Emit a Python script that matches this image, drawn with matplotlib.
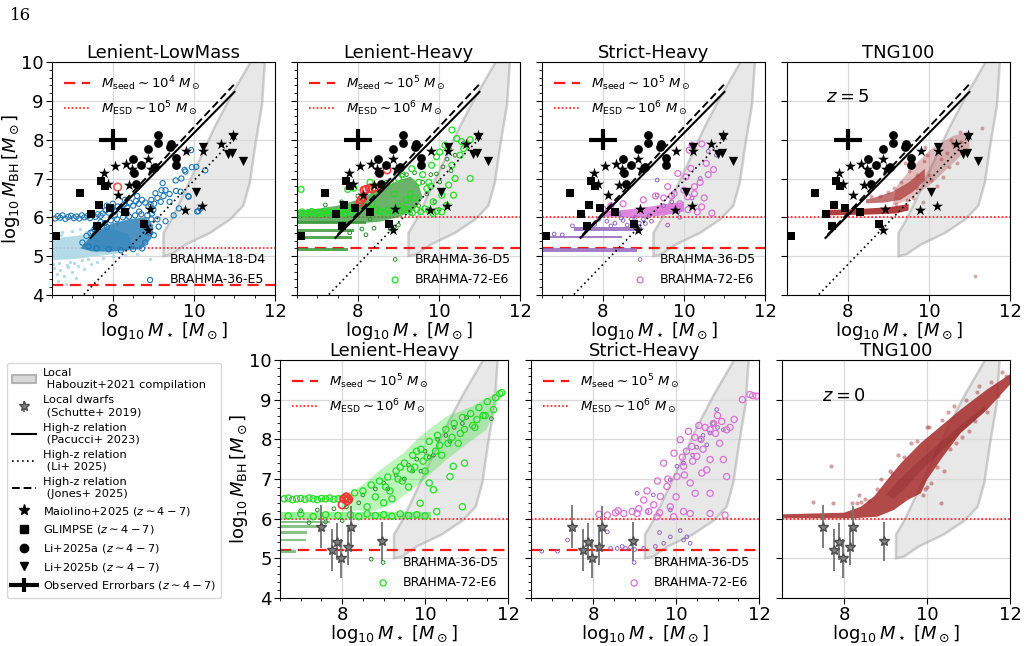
import numpy as np
import matplotlib.pyplot as plt
from matplotlib.patches import Patch
from matplotlib.lines import Line2D
from matplotlib.legend_handler import HandlerErrorbar

plt.rcParams['font.family'] = ['DejaVu Sans']
plt.rcParams['mathtext.fontset'] = 'dejavusans'

# ---------------- observations (same in all z~5 panels) ----------------
mai_x = [7.79, 8.06, 8.32, 8.47, 7.88, 8.14, 8.39, 8.93, 8.88, 9.81, 8.91, 8.88, 9.79, 10.21, 10.66, 10.23, 10.97]
mai_y = [7.14, 7.32, 7.37, 7.24, 6.87, 6.57, 6.82, 7.25, 7.50, 7.70, 6.21, 5.67, 6.18, 6.28, 7.89, 7.70, 8.12]
gl_x = [6.60, 7.19, 7.71, 7.81, 7.67, 7.46, 7.93, 7.61, 8.30, 8.77]
gl_y = [5.53, 6.63, 6.93, 6.80, 6.33, 6.08, 6.25, 5.78, 6.14, 5.84]
lia_x = [9.12, 9.12, 8.86, 9.43, 9.40, 9.55, 9.55, 8.51, 8.70, 9.05, 8.52, 8.58]
lia_y = [8.13, 7.91, 7.77, 7.90, 7.80, 7.54, 7.34, 7.50, 7.36, 7.30, 7.14, 6.85]
lib_x = [10.23, 10.97, 10.85, 10.95, 11.20, 10.04]
lib_y = [7.80, 8.08, 7.62, 7.65, 7.45, 6.65]
err_x, err_y, err_dx, err_dy = 8.0, 8.0, 0.35, 0.27

pac_x, pac_y = [7.45, 11.0], [5.47, 9.23]
jon_x, jon_y = [7.50, 11.0], [5.55, 9.43]
li_x, li_y = [7.20, 11.0], [3.92, 8.03]

hab_x = [9.25, 9.25, 9.45, 9.70, 10.15, 10.50, 10.90, 11.40, 11.75, 11.68, 11.52, 11.38, 11.22, 10.90, 10.40, 9.80, 9.45]
hab_y = [5.00, 5.60, 5.95, 6.50, 7.50, 8.30, 9.10, 10.0, 10.0, 8.90, 7.90, 6.90, 6.30, 5.95, 5.60, 5.30, 5.05]

# local dwarfs (z=0 panels)
dw_x = [7.50, 7.76, 7.88, 7.98, 8.14, 8.22, 8.96]
dw_y = [5.80, 5.21, 5.42, 5.00, 5.29, 5.80, 5.43]
dw_e = [0.55, 0.54, 0.47, 0.49, 0.47, 0.51, 0.49]

# ---------------- Lenient-LowMass z=5 ----------------
d4_poly_x = [6.5, 6.5, 6.9, 7.3, 7.7, 8.0, 8.4, 8.5, 8.2, 7.6, 7.0]
d4_poly_y = [4.90, 5.45, 5.50, 5.55, 5.65, 5.70, 5.55, 5.20, 5.08, 5.00, 4.92]
d4_x = [6.55, 6.62, 6.70, 6.80, 6.90, 7.00, 7.15, 7.30, 7.45, 7.60, 6.65, 7.10, 6.60, 6.75, 7.00, 7.20, 7.50, 7.80,
        8.10, 8.60, 6.85, 7.25, 6.52, 6.58, 6.68, 6.95, 7.40, 7.75, 8.00, 8.30, 6.72, 6.88, 7.05, 7.35, 7.65]
d4_y = [4.70, 4.55, 4.65, 4.50, 4.72, 4.60, 4.75, 4.68, 4.80, 4.85, 4.35, 4.45, 5.60, 5.62, 5.65, 5.70, 5.78, 5.80,
        5.82, 5.05, 4.28, 4.90, 4.80, 5.52, 4.82, 4.85, 4.92, 4.95, 5.00, 5.02, 5.55, 4.78, 4.83, 5.62, 5.70]
e5_poly_x = [7.2, 7.4, 7.7, 8.0, 8.4, 8.8, 9.0, 8.95, 8.7, 8.0, 7.5]
e5_poly_y = [5.20, 5.45, 5.70, 5.85, 5.95, 6.00, 5.80, 5.45, 5.18, 5.12, 5.12]
e5_x = [6.58, 6.64, 6.70, 6.76, 6.83, 6.90, 6.97, 7.04, 7.10, 7.17, 7.24, 7.30, 7.37, 7.44, 7.50, 7.57, 7.63, 7.70,
        7.75, 7.82, 7.90, 7.98, 8.05, 8.12, 8.20, 8.28, 8.35, 8.42, 8.50, 8.57, 8.64, 8.72, 8.80, 8.88, 8.95, 9.02,
        9.10, 9.18, 9.25, 9.05, 9.20, 8.60, 8.30, 8.00, 7.85, 9.23, 9.30, 9.67, 9.79, 9.95, 9.87, 9.63, 10.08, 10.16,
        9.93, 9.77, 9.69, 9.56, 10.06, 10.28, 9.86, 8.93, 10.11, 9.13, 9.01, 8.97, 9.40, 9.50, 9.30, 9.10, 9.40, 9.55,
        7.25, 7.35, 7.45, 7.55, 7.65, 7.80, 7.95, 8.10, 8.25, 8.40, 8.55, 8.70, 8.85, 8.95, 8.92, 8.80, 8.72, 8.50,
        8.20, 7.90, 7.60, 7.40, 7.70, 8.05, 8.35, 8.65, 9.00, 7.50, 7.85]
e5_y = [5.97, 6.03, 5.99, 6.05, 5.96, 6.01, 6.04, 5.98, 6.02, 5.97, 6.05, 6.00, 6.03, 5.98, 6.06, 6.01, 6.08, 6.04,
        6.10, 6.18, 6.12, 6.22, 6.15, 6.28, 6.20, 6.33, 6.25, 6.38, 6.30, 6.42, 6.35, 6.45, 6.38, 6.28, 6.45, 6.35,
        6.50, 6.40, 6.55, 6.62, 6.70, 6.55, 6.45, 6.35, 6.30, 6.88, 6.70, 6.66, 7.18, 7.29, 6.53, 6.23, 6.15, 6.23,
        7.73, 7.22, 7.00, 6.68, 7.30, 7.21, 6.55, 6.34, 6.16, 5.76, 5.54, 6.10, 6.40, 6.05, 5.90, 5.95, 6.60, 6.95,
        5.35, 5.52, 5.60, 5.70, 5.80, 5.85, 5.92, 5.95, 6.00, 6.02, 6.05, 6.08, 6.05, 5.95, 5.60, 5.35, 5.20, 5.18,
        5.15, 5.18, 5.20, 5.25, 5.88, 6.05, 6.10, 6.15, 6.20, 5.62, 5.75]
lm_red_x, lm_red_y = [8.12], [6.78]

# ---------------- Lenient-Heavy z=5 ----------------
lh5_band_lo = [5.14, 5.44, 5.63, 5.82]
lh5_band_hi = [5.22, 5.52, 5.70, 5.90]
lh5_band_x1 = [7.75, 7.85, 7.90, 8.20]
lh5_poly_x = [6.5, 6.5, 7.0, 7.5, 8.0, 8.5, 9.0, 9.3, 9.5, 9.6, 9.4, 9.0, 8.5, 8.0, 7.5, 7.0]
lh5_poly_y = [5.85, 6.18, 6.22, 6.30, 6.45, 6.70, 6.95, 7.05, 6.85, 6.50, 6.20, 6.00, 5.88, 5.85, 5.85, 5.85]
lh5_d5_x = [9.60, 9.80, 9.94, 10.02, 10.10, 9.70, 9.90, 10.20, 10.40, 10.60, 9.50, 8.80, 9.00, 8.30, 8.50, 8.70, 9.20,
            7.80, 8.10, 8.40, 8.90, 9.30, 10.30, 10.00, 7.20, 7.60, 8.00, 8.60, 9.10, 9.40, 8.20, 8.80]
lh5_d5_y = [6.90, 7.10, 7.12, 6.91, 7.30, 6.60, 6.40, 7.50, 7.60, 7.90, 6.30, 5.70, 5.80, 5.95, 6.80, 6.90, 7.10,
            5.60, 5.70, 5.72, 5.75, 6.10, 7.20, 6.20, 6.32, 6.40, 6.55, 6.85, 7.08, 7.15, 5.55, 5.78]
lh5_e6_x = [6.60, 6.55, 6.62, 6.70, 6.78, 6.86, 6.94, 7.02, 7.10, 7.18, 7.26, 7.34, 7.42, 7.50, 7.58, 7.66, 7.74, 7.82,
            7.90, 7.98, 8.05, 8.15, 8.25, 8.35, 8.45, 8.55, 8.65, 8.75, 8.85, 8.95, 9.05, 9.15, 9.25, 9.35, 9.45, 9.55,
            9.65, 9.75, 9.85, 9.95, 8.40, 8.60, 8.80, 9.00, 9.10, 9.33, 9.57, 9.82, 9.94, 10.02, 10.15, 10.23, 10.32,
            10.44, 10.56, 10.77, 10.32, 10.40, 10.24, 10.07, 10.36, 10.19, 10.07, 10.77, 9.86, 9.70, 10.52, 10.61,
            9.50, 9.30, 9.20, 9.60, 9.75, 8.30, 7.90, 7.75, 8.90, 9.00, 9.40, 9.80]
lh5_e6_y = [6.72, 6.10, 6.14, 6.08, 6.12, 6.15, 6.09, 6.13, 6.10, 6.16, 6.11, 6.14, 6.08, 6.12, 6.15, 6.10, 6.18, 6.13,
            6.20, 6.25, 6.22, 6.30, 6.28, 6.35, 6.20, 6.15, 6.12, 6.18, 6.14, 6.20, 6.16, 6.22, 6.18, 6.12, 6.20, 6.15,
            6.22, 6.18, 6.10, 6.16, 6.60, 6.85, 6.90, 7.00, 7.10, 7.25, 7.34, 7.34, 7.56, 7.68, 7.86, 7.77, 8.25,
            8.03, 7.95, 8.00, 7.34, 7.00, 6.83, 6.57, 6.57, 6.31, 6.14, 7.00, 6.40, 6.74, 7.60, 7.77,
            6.90, 6.60, 6.45, 7.10, 6.90, 6.90, 6.75, 6.72, 6.60, 6.30, 6.50, 6.80]
lh5_red_x = [8.08, 8.12, 8.05, 8.20, 8.28, 8.35, 8.42, 8.15, 8.72]
lh5_red_y = [6.45, 6.50, 6.38, 6.72, 6.75, 6.73, 6.77, 6.70, 7.22]

# ---------------- Strict-Heavy z=5 ----------------
sh5_band_lo = [5.12, 5.46, 5.66]
sh5_band_hi = [5.22, 5.53, 5.74]
sh5_band_x0 = [6.5, 6.5, 7.3]
sh5_band_x1 = [8.85, 8.47, 8.97]
sh5_d5_x = [7.25, 7.60, 7.90, 8.10, 8.30, 8.50, 8.70, 8.90, 9.05, 9.20, 9.34, 9.34, 9.85, 9.50, 9.70, 9.60, 9.90,
            10.20, 10.40, 10.60, 10.80, 6.60, 6.80, 7.00, 8.00, 8.40, 8.80, 7.80, 8.20, 8.60, 9.00, 9.15, 8.45]
sh5_d5_y = [5.78, 5.80, 5.95, 5.90, 5.85, 5.92, 5.95, 5.85, 5.84, 5.90, 6.57, 6.96, 6.14, 6.30, 6.40, 5.80, 6.00,
            6.50, 7.00, 7.70, 7.60, 5.55, 5.57, 5.55, 6.05, 6.08, 6.00, 5.82, 5.78, 5.80, 5.95, 6.05, 5.98]
sh5_poly_x = [8.0, 8.0, 8.6, 9.2, 9.6, 10.0, 10.0, 9.5, 9.0]
sh5_poly_y = [6.02, 6.15, 6.20, 6.28, 6.35, 6.40, 6.15, 6.05, 6.00]
sh5_e6_x = [10.20, 10.44, 10.13, 10.17, 9.85, 10.05, 10.26, 10.55, 10.73, 9.76, 10.09, 10.26, 10.44, 10.69, 10.33,
            9.60, 9.50, 9.90, 10.10, 8.20, 8.00, 8.50, 9.00, 9.30, 9.70, 10.00, 10.40, 10.60, 9.40, 10.50]
sh5_e6_y = [7.86, 7.89, 7.73, 7.26, 7.13, 7.04, 6.79, 7.39, 7.23, 6.61, 6.53, 6.61, 6.27, 6.11, 6.14,
            6.79, 6.50, 6.35, 6.20, 6.30, 6.22, 6.35, 6.45, 6.55, 6.55, 6.70, 6.90, 7.10, 6.20, 6.50]

# ---------------- TNG100 z=5 ----------------
t5_strip1_x = [7.5, 8.5, 9.2, 9.5, 9.5, 9.0, 8.2, 7.5]
t5_strip1_y = [6.05, 6.07, 6.10, 6.18, 6.34, 6.26, 6.21, 6.19]
t5_strip2_x = [8.45, 8.9, 9.3, 9.6, 9.9, 9.9, 9.5, 9.1, 8.7, 8.45]
t5_strip2_y = [6.36, 6.38, 6.45, 6.65, 6.95, 7.25, 6.90, 6.66, 6.52, 6.46]
t5_cloud_x = [9.1, 9.6, 10.1, 10.6, 11.0, 11.0, 10.6, 10.1, 9.6, 9.2]
t5_cloud_y = [6.30, 6.50, 6.90, 7.40, 7.80, 8.20, 8.10, 7.80, 7.30, 6.80]
t5_x = [10.77, 11.30, 11.14, 10.21, 10.54, 9.88, 9.71, 9.14, 8.57, 9.50, 9.90, 10.30, 10.60, 9.30, 9.60, 9.85,
        10.20, 10.50, 10.90, 9.40, 8.80, 9.00, 10.70, 10.00, 9.20, 9.45, 9.70, 10.05, 10.35, 10.80, 9.95, 10.45]
t5_y = [8.21, 8.29, 4.49, 7.87, 8.00, 7.44, 7.10, 6.76, 6.54, 7.20, 7.80, 7.50, 7.90, 6.90, 6.50, 6.40,
        6.80, 7.30, 7.70, 7.40, 6.55, 6.65, 7.40, 7.10, 6.35, 6.45, 6.75, 6.95, 7.05, 7.95, 7.60, 7.65]

# ---------------- Lenient-Heavy z=0 ----------------
lh0_band_lo = [5.13, 5.43, 5.62, 5.76, 5.88]
lh0_band_hi = [5.20, 5.50, 5.70, 5.84, 5.95]
lh0_band_x1 = [6.88, 7.12, 7.16, 7.50, 7.70]
lh0_e6_band = [5.98, 6.16, 6.5, 10.15]
lh0_poly_x = [8.0, 8.5, 8.92, 9.48, 9.88, 10.52, 11.16, 11.64, 11.85, 11.48, 11.16, 10.52, 9.88, 9.24, 8.8, 8.0]
lh0_poly_y = [6.55, 6.85, 7.23, 7.65, 8.08, 8.58, 8.84, 9.13, 9.20, 8.24, 8.00, 7.49, 6.89, 6.39, 6.20, 6.20]
lh0_d5_x = [8.50, 8.80, 9.00, 9.30, 9.60, 9.80, 10.00, 10.30, 10.50, 10.70, 10.90, 11.00, 9.50, 9.90, 10.20, 11.60,
            8.20, 8.70, 7.00, 7.40, 7.80, 8.10, 8.40, 9.10, 9.70, 10.10, 10.60, 7.20, 7.60, 8.00]
lh0_d5_y = [6.60, 6.75, 6.90, 7.10, 7.35, 7.50, 7.70, 8.00, 8.10, 8.30, 8.40, 8.55, 7.00, 7.20, 7.60, 8.52,
            6.45, 4.98, 6.20, 6.22, 6.25, 6.30, 6.40, 6.75, 7.20, 7.55, 7.95, 5.90, 5.92, 5.95]
lh0_e6_x = [6.60, 6.70, 6.80, 6.90, 7.00, 7.10, 7.20, 7.30, 7.40, 7.50, 7.60, 7.70, 7.80, 7.90, 8.00,
            8.10, 8.30, 8.50, 8.70, 8.90, 9.10, 9.30, 9.50, 9.70, 9.90, 10.10, 10.30, 10.50, 10.70, 10.90, 11.10,
            11.30, 11.50, 11.70, 11.80, 11.85, 9.88, 10.20, 10.60, 10.68, 10.28, 10.90, 9.60, 9.20, 10.00, 10.40,
            10.80, 11.20, 9.40, 9.80, 10.95, 11.40, 10.10, 9.00, 8.60,
            8.20, 8.40, 8.60, 8.80, 9.00, 9.20, 9.40, 9.60, 9.80, 10.00, 6.70, 7.00, 7.30, 7.60, 7.90,
            8.80, 9.05, 9.35, 9.65, 9.95, 10.25, 10.55, 10.85, 11.15, 11.45, 11.65, 9.15, 9.45, 9.75,
            10.05, 10.35, 10.65, 10.95, 11.25]
lh0_e6_y = [6.50, 6.52, 6.48, 6.50, 6.51, 6.49, 6.52, 6.50, 6.48, 6.51, 6.50, 6.52, 6.49, 6.50, 6.51,
            6.55, 6.65, 6.70, 6.85, 6.95, 7.05, 7.20, 7.40, 7.60, 7.75, 7.95, 8.10, 8.25, 8.40, 8.55, 8.65,
            8.80, 8.95, 9.05, 9.15, 9.18, 6.39, 6.73, 7.06, 7.32, 6.18, 6.30, 6.80, 6.50, 7.20, 7.60,
            7.90, 8.30, 7.30, 7.70, 7.40, 8.60, 6.90, 6.40, 6.30,
            6.10, 6.05, 6.12, 6.08, 6.10, 6.06, 6.12, 6.08, 6.10, 6.07, 6.07, 6.12, 6.05, 6.10, 6.08,
            6.55, 6.80, 7.00, 7.25, 7.45, 7.70, 7.90, 8.15, 8.35, 8.60, 8.75, 6.70, 6.95, 7.30,
            7.55, 7.85, 8.05, 8.25, 8.50]
lh0_red_x = [8.05, 8.10, 8.15, 8.12, 8.00]
lh0_red_y = [6.50, 6.55, 6.50, 6.45, 6.35]

# ---------------- Strict-Heavy z=0 ----------------
sh0_e6_x = [10.10, 10.82, 11.22, 11.78, 11.94, 10.38, 10.50, 10.82, 11.14, 10.74, 10.62, 11.22, 10.18, 10.02, 9.78,
            9.62, 9.22, 9.46, 9.86, 10.18, 10.34, 10.82, 11.18, 10.82, 10.46, 10.34, 8.14, 8.34, 8.54, 8.74, 8.94,
            9.06, 9.34, 9.54, 9.94, 10.60, 10.90, 11.00, 11.40, 9.70, 10.25, 10.55, 11.60, 11.85,
            10.30, 10.45, 10.70, 10.95, 11.05, 10.40, 10.15, 9.95, 9.55, 9.30, 10.65, 11.10, 11.30, 10.00,
            9.80, 10.20, 8.60, 9.10, 9.60]
sh0_e6_y = [7.99, 8.24, 8.24, 9.13, 9.09, 7.82, 7.57, 7.49, 7.49, 7.23, 7.15, 7.06, 7.32, 7.06, 6.81,
            6.56, 6.47, 6.35, 6.30, 6.18, 6.13, 6.13, 6.09, 6.64, 6.64, 6.90, 6.11, 6.09, 6.15, 6.13, 6.18,
            6.13, 6.18, 6.05, 6.05, 8.00, 8.40, 8.60, 8.50, 7.40, 7.70, 8.35, 9.00, 9.10,
            8.20, 8.05, 8.30, 8.15, 7.90, 7.45, 7.55, 7.65, 6.95, 6.70, 7.75, 8.45, 8.30, 6.55,
            7.00, 7.10, 6.20, 6.25, 6.15]
sh0_d5_x = [8.34, 8.42, 8.58, 8.78, 9.22, 9.70, 9.86, 10.18, 10.26, 10.34, 7.38, 6.76, 7.14, 10.18, 10.98, 10.82,
            10.58, 10.74, 11.14, 9.86, 10.02, 9.06, 9.86, 9.30, 10.40, 10.90, 8.90, 9.50, 10.10, 10.50, 10.65,
            11.00, 9.45, 9.60, 9.00, 8.70]
sh0_d5_y = [5.67, 5.25, 5.25, 5.25, 5.25, 5.38, 5.54, 5.46, 5.54, 5.38, 5.46, 5.18, 5.18, 7.40, 8.75, 8.16,
            7.99, 7.86, 8.24, 6.98, 7.32, 6.64, 6.22, 6.18, 7.60, 8.40, 5.28, 5.30, 5.70, 7.80, 8.10,
            8.30, 6.60, 5.65, 5.22, 5.30]

# ---------------- TNG100 z=0 ----------------
t0_poly_x = [6.5, 8.0, 8.4, 8.72, 9.04, 9.37, 9.85, 10.33, 10.81, 11.45, 12.0,
             12.0, 11.45, 10.81, 10.33, 10.0, 9.85, 9.53, 9.2, 8.8, 8.24, 6.5]
t0_poly_y = [6.11, 6.15, 6.30, 6.56, 6.98, 7.40, 7.91, 8.33, 8.75, 9.26, 9.64,
             9.38, 8.75, 8.16, 7.49, 6.98, 6.64, 6.47, 6.22, 6.05, 6.01, 6.01]
t0_core_x = [9.0, 9.3, 9.8, 10.3, 10.8, 11.4, 11.4, 10.8, 10.3, 9.8, 9.5, 9.2]
t0_core_y = [6.60, 6.95, 7.45, 7.90, 8.35, 8.85, 8.70, 8.15, 7.65, 7.15, 6.80, 6.50]
t0_x = [7.68, 7.24, 7.72, 8.35, 8.32, 10.00, 10.33, 8.20, 8.40, 8.60, 9.90, 10.10, 10.40, 9.30, 9.60, 10.00,
        10.50, 11.20, 11.80, 11.90, 11.70, 10.70, 11.00, 9.10, 8.90, 8.50, 8.80, 9.15, 9.45, 9.75, 10.05, 10.35,
        10.65, 10.95, 11.25, 11.55, 9.95, 10.25, 10.55, 10.85, 11.15, 11.45]
t0_y = [7.34, 6.41, 6.39, 6.60, 6.39, 6.81, 6.39, 6.40, 6.42, 6.45, 6.60, 6.90, 7.20, 7.60, 7.90, 8.30,
        8.70, 9.20, 9.70, 9.60, 9.10, 7.90, 8.20, 7.20, 7.00, 6.50, 6.75, 7.15, 7.55, 7.95, 8.30, 8.50,
        8.85, 9.00, 9.35, 9.45, 6.75, 7.30, 7.75, 8.05, 8.45, 8.70]

# ---------------- figure ----------------
fig = plt.figure(figsize=(10.25, 6.46), dpi=100)
W, H = 1025.0, 646.0


def add_ax(l, t, w, h):
    return fig.add_axes([l / W, 1 - (t + h) / H, w / W, h / H])


top = [add_ax(l, 62, 223, 233) for l in (52, 297, 542, 787)]
bot = [add_ax(l, 360, 228, 238) for l in (280, 531, 782)]

fig.text(10 / W, 1 - 15 / H, '16', family='DejaVu Serif', fontsize=12, va='center', ha='left')

RED = '#ff1a1a'
BROWN = '#a52a2a'


def setup(ax, title, minor=True, ylab=False, xt=None):
    ax.set_xlim(6.5, 12)
    ax.set_ylim(4, 10)
    if xt is not None:
        ax.set_xticks(xt)
    ax.set_yticks(range(4, 11))
    if minor:
        ax.minorticks_on()
    ax.grid(True, which='major', color='0.85', lw=0.9)
    ax.set_axisbelow(True)
    ax.tick_params(labelsize=13, length=4, pad=2)
    ax.tick_params(which='minor', length=2)
    ax.set_title(title, fontsize=13, pad=2)
    ax.set_xlabel(r'$\log_{10}M_\star\ [M_\odot]$', fontsize=13, labelpad=-1)
    if ylab:
        ax.set_ylabel(r'$\log_{10}M_{\rm BH}\,[M_\odot]$', fontsize=13, labelpad=-1)
    else:
        ax.tick_params(labelleft=False)
    ax.fill(hab_x, hab_y, facecolor='0.55', alpha=0.2, zorder=0.5)
    ax.fill(hab_x, hab_y, facecolor='none', edgecolor='0.6', alpha=0.45, lw=1.8, zorder=0.6)


def seeds(ax, seed, esd, seed_lab=None, esd_lab=None):
    hs = []
    if seed is not None:
        hs.append(ax.axhline(seed, color=RED, ls=(0, (5, 3)), lw=1.6, zorder=1, label=seed_lab))
    hs.append(ax.axhline(esd, color=RED, ls=(0, (1, 1.3)), lw=1.2, zorder=1, label=esd_lab))
    if seed_lab:
        lg = ax.legend(handles=hs, loc='upper left', frameon=False, fontsize=9.5,
                       handlelength=2.0, borderaxespad=0.5, labelspacing=0.5)
        ax.add_artist(lg)


def bands(ax, lo, hi, x0, x1, color, alpha=0.85):
    for a, b, s, e in zip(lo, hi, x0, x1):
        ax.fill_between([s, e], [a, a], [b, b], color=color, alpha=alpha, lw=0, zorder=2)


def observations(ax):
    ax.plot(li_x, li_y, color='k', ls=(0, (1, 2)), lw=1.2, zorder=3)
    ax.plot(jon_x, jon_y, color='k', ls=(0, (4, 2)), lw=1.4, zorder=3)
    ax.plot(pac_x, pac_y, color='k', ls='-', lw=1.5, zorder=3)
    eb = ax.errorbar([err_x], [err_y], xerr=[err_dx], yerr=[err_dy], fmt='none', ecolor='k', elinewidth=3,
                     capsize=0, zorder=4)
    ax.scatter(mai_x, mai_y, marker='*', s=70, c='k', lw=0, zorder=4)
    ax.scatter(gl_x, gl_y, marker='s', s=40, c='k', lw=0, zorder=4)
    ax.scatter(lia_x, lia_y, marker='o', s=40, c='k', lw=0, zorder=4)
    ax.scatter(lib_x, lib_y, marker='v', s=45, c='k', lw=0, zorder=4)
    return eb


def dwarfs(ax):
    return ax.errorbar(dw_x, dw_y, yerr=dw_e, fmt='*', color='0.45', mfc='0.5', mec='0.3', ms=7,
                       elinewidth=1.3, capsize=0, zorder=5)


def sim_legend(ax, handles):
    ax.legend(handles=handles, loc='lower right', frameon=False, fontsize=9,
              handletextpad=0.6, borderaxespad=0.3, labelspacing=0.6)


# ---- panel 1: Lenient-LowMass z=5
ax = top[0]
setup(ax, 'Lenient-LowMass', ylab=True)
seeds(ax, 4.27, 5.2, r'$M_{\rm seed}\sim10^4\ M_\odot$', r'$M_{\rm ESD}\sim10^5\ M_\odot$')
ax.fill(d4_poly_x, d4_poly_y, color='lightblue', alpha=0.9, lw=0, zorder=2)
h1 = ax.scatter(d4_x, d4_y, s=6, c='lightblue', alpha=0.9, lw=0, zorder=2, label='BRAHMA-18-D4')
ax.fill(e5_poly_x, e5_poly_y, color='#1f77b4', alpha=0.8, lw=0, zorder=2.1)
h2 = ax.scatter(e5_x, e5_y, s=14, facecolors='none', edgecolors='#1f77b4', lw=0.8, zorder=2.2, label='BRAHMA-36-E5')
ax.scatter(lm_red_x, lm_red_y, s=30, facecolors='none', edgecolors='#ff5555', lw=1.2, zorder=2.3)
obs_eb = observations(ax)
sim_legend(ax, [h1, h2])

# ---- panel 2: Lenient-Heavy z=5
ax = top[1]
setup(ax, 'Lenient-Heavy')
seeds(ax, 5.2, 6.0, r'$M_{\rm seed}\sim10^5\ M_\odot$', r'$M_{\rm ESD}\sim10^6\ M_\odot$')
bands(ax, lh5_band_lo, lh5_band_hi, [6.5] * 4, lh5_band_x1, '#3a9a3a')
ax.fill(lh5_poly_x, lh5_poly_y, color='#3a9a3a', alpha=0.75, lw=0, zorder=2)
h1 = ax.scatter(lh5_d5_x, lh5_d5_y, s=7, facecolors='none', edgecolors='#2e8b2e', lw=0.7, zorder=2.1, label='BRAHMA-36-D5')
h2 = ax.scatter(lh5_e6_x, lh5_e6_y, s=18, facecolors='none', edgecolors='#22dd22', lw=0.9, zorder=2.2, label='BRAHMA-72-E6')
ax.scatter(lh5_red_x, lh5_red_y, s=28, facecolors='none', edgecolors='#ff3333', lw=1.1, zorder=2.3)
observations(ax)
sim_legend(ax, [h1, h2])

# ---- panel 3: Strict-Heavy z=5
ax = top[2]
setup(ax, 'Strict-Heavy')
seeds(ax, 5.2, 6.0, r'$M_{\rm seed}\sim10^5\ M_\odot$', r'$M_{\rm ESD}\sim10^6\ M_\odot$')
bands(ax, sh5_band_lo, sh5_band_hi, sh5_band_x0, sh5_band_x1, '#9467bd')
ax.fill(sh5_poly_x, sh5_poly_y, color='#da70d6', alpha=0.85, lw=0, zorder=2)
h1 = ax.scatter(sh5_d5_x, sh5_d5_y, s=7, facecolors='none', edgecolors='#9467bd', lw=0.7, zorder=2.1, label='BRAHMA-36-D5')
h2 = ax.scatter(sh5_e6_x, sh5_e6_y, s=18, facecolors='none', edgecolors='#da70d6', lw=0.9, zorder=2.2, label='BRAHMA-72-E6')
observations(ax)
sim_legend(ax, [h1, h2])

# ---- panel 4: TNG100 z=5
ax = top[3]
setup(ax, 'TNG100', minor=False)
seeds(ax, None, 6.0)
ax.fill(t5_cloud_x, t5_cloud_y, color=BROWN, alpha=0.3, lw=0, zorder=2)
ax.fill(t5_strip1_x, t5_strip1_y, color=BROWN, alpha=0.9, lw=0, zorder=2)
ax.fill(t5_strip2_x, t5_strip2_y, color=BROWN, alpha=0.65, lw=0, zorder=2)
ax.scatter(t5_x, t5_y, s=8, c=BROWN, alpha=0.4, lw=0, zorder=2.1)
ax.text(8.0, 9.1, '$z=5$', fontsize=13, ha='center', va='center')
observations(ax)

# ---- panel 5: Lenient-Heavy z=0
ax = bot[0]
setup(ax, 'Lenient-Heavy', ylab=True, xt=[8, 10, 12])
seeds(ax, 5.2, 6.0, r'$M_{\rm seed}\sim10^5\ M_\odot$', r'$M_{\rm ESD}\sim10^6\ M_\odot$')
bands(ax, lh0_band_lo, lh0_band_hi, [6.5] * 5, lh0_band_x1, '#3a9a3a', alpha=0.6)
bands(ax, [lh0_e6_band[0]], [lh0_e6_band[1]], [lh0_e6_band[2]], [lh0_e6_band[3]], '#22dd22', alpha=0.45)
ax.fill(lh0_poly_x, lh0_poly_y, color='#22dd22', alpha=0.3, lw=0, zorder=2)
h1 = ax.scatter(lh0_d5_x, lh0_d5_y, s=7, facecolors='none', edgecolors='#2e8b2e', lw=0.7, zorder=2.1, label='BRAHMA-36-D5')
h2 = ax.scatter(lh0_e6_x, lh0_e6_y, s=20, facecolors='none', edgecolors='#22dd22', lw=0.9, zorder=2.2, label='BRAHMA-72-E6')
ax.scatter(lh0_red_x, lh0_red_y, s=30, facecolors='none', edgecolors='#ff3333', lw=1.2, zorder=2.3)
dw = dwarfs(ax)
sim_legend(ax, [h1, h2])

# ---- panel 6: Strict-Heavy z=0
ax = bot[1]
setup(ax, 'Strict-Heavy', xt=[8, 10, 12])
seeds(ax, 5.2, 6.0, r'$M_{\rm seed}\sim10^5\ M_\odot$', r'$M_{\rm ESD}\sim10^6\ M_\odot$')
h1 = ax.scatter(sh0_d5_x, sh0_d5_y, s=7, facecolors='none', edgecolors='#9467bd', lw=0.7, zorder=2.1, label='BRAHMA-36-D5')
h2 = ax.scatter(sh0_e6_x, sh0_e6_y, s=20, facecolors='none', edgecolors='#da70d6', lw=0.9, zorder=2.2, label='BRAHMA-72-E6')
dwarfs(ax)
sim_legend(ax, [h1, h2])

# ---- panel 7: TNG100 z=0
ax = bot[2]
setup(ax, 'TNG100', minor=False, xt=[8, 10, 12])
seeds(ax, None, 6.0)
ax.fill(t0_poly_x, t0_poly_y, color=BROWN, alpha=0.85, lw=0, zorder=2)
ax.fill(t0_core_x, t0_core_y, color='#7a1c1c', alpha=0.25, lw=0, zorder=2.1)
ax.scatter(t0_x, t0_y, s=9, c=BROWN, alpha=0.45, lw=0, zorder=2.2)
ax.text(8.0, 9.1, '$z=0$', fontsize=13, ha='center', va='center')
dwarfs(ax)

# ---- shared legend
handles = [
    Patch(facecolor='0.85', edgecolor='0.7', lw=1.5),
    dw,
    Line2D([], [], color='k', ls='-', lw=1.5),
    Line2D([], [], color='k', ls=(0, (1, 2)), lw=1.2),
    Line2D([], [], color='k', ls=(0, (4, 2)), lw=1.4),
    Line2D([], [], color='k', marker='*', ls='none', ms=8),
    Line2D([], [], color='k', marker='s', ls='none', ms=6),
    Line2D([], [], color='k', marker='o', ls='none', ms=6),
    Line2D([], [], color='k', marker='v', ls='none', ms=6),
    obs_eb,
]
labels = [
    'Local\n Habouzit+2021 compilation',
    'Local dwarfs\n (Schutte+ 2019)',
    'High-z relation\n (Pacucci+ 2023)',
    'High-z relation\n (Li+ 2025)',
    'High-z relation\n (Jones+ 2025)',
    r'Maiolino+2025 ($z\sim4-7$)',
    r'GLIMPSE ($z\sim4-7$)',
    r'Li+2025a ($z\sim4-7$)',
    r'Li+2025b ($z\sim4-7$)',
    r'Observed Errorbars ($z\sim4-7$)',
]
fig.legend(handles, labels, loc='upper left', bbox_to_anchor=(7 / W, 1 - 363 / H), fontsize=8.2,
           borderaxespad=0, labelspacing=0.5, handlelength=2.1, handletextpad=0.6, borderpad=0.45,
           framealpha=1, edgecolor='0.85',
           handler_map={obs_eb: HandlerErrorbar(xerr_size=1.3, yerr_size=0.6)})

fig.savefig('out.png', dpi=100)
